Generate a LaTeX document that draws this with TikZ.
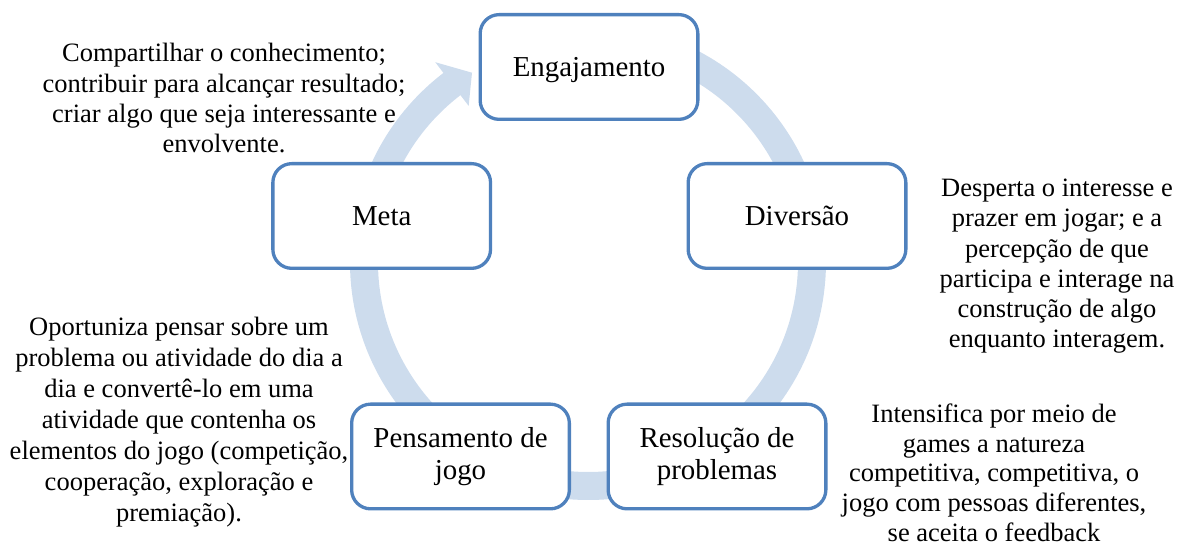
\documentclass[tikz,border=0pt]{standalone}
\usepackage{fontspec}
\setmainfont{Liberation Serif}
\usetikzlibrary{calc}
\definecolor{boxblue}{RGB}{79,129,189}
\definecolor{ringblue}{RGB}{205,220,237}

\begin{document}
\begin{tikzpicture}[x=1bp,y=1bp,
        stage/.style={draw=boxblue,line width=3.3bp,rounded corners=19bp,fill=white,
                minimum width=217.7bp,minimum height=104.7bp,inner sep=2bp,align=center,
                font=\fontsize{29}{32}\selectfont},
        note/.style={align=center,inner sep=0pt,font=\fontsize{26.6}{30.5}\selectfont},
        ring/.style={draw=ringblue,line width=28bp}]
                  \useasboundingbox (0,0) rectangle (1177,547);
                  \coordinate (O) at (588,285);
                  % circular arrow behind the stages
                  \draw[ring] ($(O)+(85:224)$) arc[start angle=85,end angle=-233,radius=224];
                  \fill[ringblue] ($(O)+(127.4:251.5)$) -- ($(O)+(121.5:222)$) -- ($(O)+(127.4:196.5)$) -- cycle;
                  % stages
                  \node[stage,text depth=0pt] (E) at (589,480) {Engajamento};
                  \node[stage] (D) at (797,331) {Diversão};
                  \node[stage] (R) at (717,90.5) {Resolução de\\problemas};
                  \node[stage] (P) at (460.5,90.5) {Pensamento de\\jogo};
                  \node[stage] (M) at (381.7,331) {Meta};
                  % notes
                  \node[note] (tM) at (224,448.6) {Compartilhar o conhecimento;\\contribuir para alcançar resultado;\\criar algo que seja interessante e\\envolvente.};
                  \node[note,font=\fontsize{26.6}{30.3}\selectfont] (tD) at (1057,280.8) {Desperta o interesse e\\prazer em jogar; e a\\percepção de que\\participa e interage na\\construção de algo\\enquanto interagem.};
                  \node[note,font=\fontsize{26.6}{31.1}\selectfont] (tP) at (179,124.9) {Oportuniza pensar sobre um\\problema ou atividade do dia a\\dia e convertê-lo em uma\\atividade que contenha os\\elementos do jogo (competição,\\cooperação, exploração e\\premiação).};
                  \node[note,font=\fontsize{26.6}{30}\selectfont] (tR) at (994,74.3) {Intensifica por meio de\\games a natureza\\competitiva, competitiva, o\\jogo com pessoas diferentes,\\se aceita o feedback};
\end{tikzpicture}
\end{document}
